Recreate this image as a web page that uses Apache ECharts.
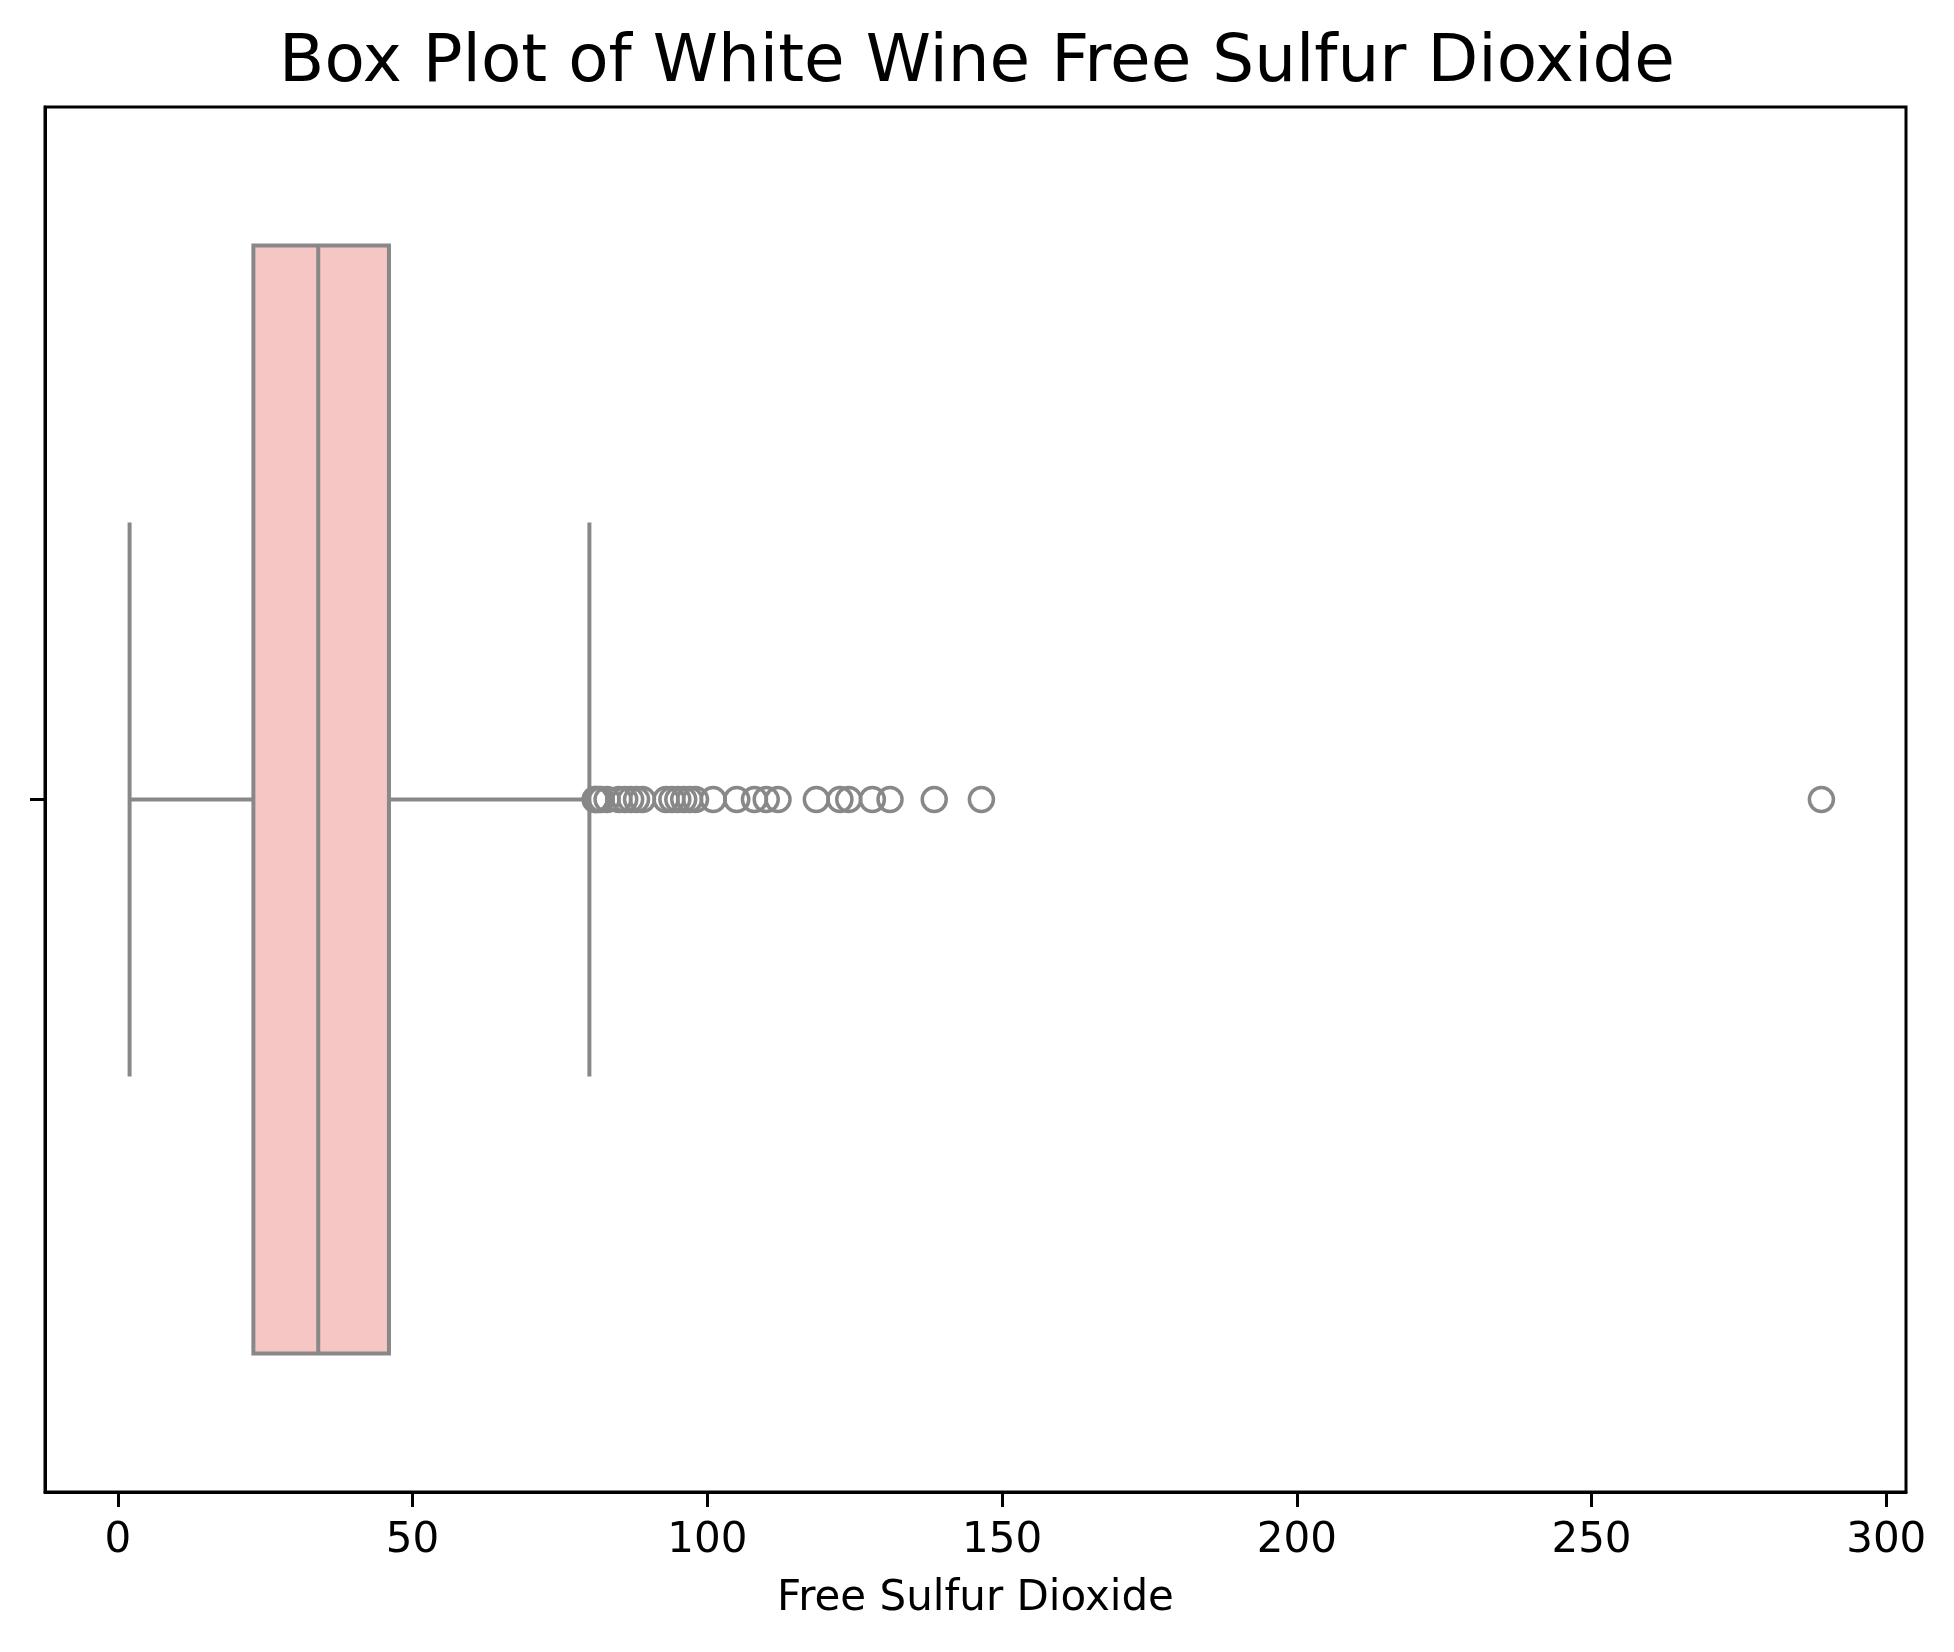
<!DOCTYPE html>
<html>
<head>
<meta charset="utf-8">
<title>Box Plot of White Wine Free Sulfur Dioxide</title>
<script src="https://cdn.jsdelivr.net/npm/echarts@6/dist/echarts.min.js"></script>
<style>
	html, body { margin: 0; padding: 0; background: #fff; }
	#main { width: 1954px; height: 1652px; }
</style>
</head>
<body>
<div id="main"></div>
<script>
// box summary: lower whisker, Q1, median, Q3, upper whisker
var boxStats = [2, 23, 34, 46, 80];
// points beyond the whiskers
var outliers = [81, 81, 81.5, 82, 83, 85, 86, 87, 88, 89, 93, 94, 95, 96, 97, 98,
	101, 105, 108, 110, 112, 118.5, 122.5, 124, 128, 131, 138.5, 146.5, 289];
// x axis tick labels
var xTicks = [0, 50, 100, 150, 200, 250, 300];

var lineColor = '#888888';
var boxColor = '#f5c6c3';
var font = 'DejaVu Sans';

var myChart = echarts.init(document.getElementById('main'));

// draw box, median, whiskers and caps with the axes' own scales
function renderBox(params, api) {
	var y = api.value(0);
	var lo = api.coord([api.value(1), y]);
	var q1 = api.coord([api.value(2), y]);
	var med = api.coord([api.value(3), y]);
	var q3 = api.coord([api.value(4), y]);
	var hi = api.coord([api.value(5), y]);
	var boxH = api.size([0, 0.8])[1];
	var capH = api.size([0, 0.4])[1];
	var cy = q1[1];
	var style = { stroke: lineColor, lineWidth: 4, fill: null };
	return {
		type: 'group',
		children: [
			{ type: 'line', shape: { x1: lo[0], y1: cy, x2: q1[0], y2: cy }, style: style },
			{ type: 'line', shape: { x1: q3[0], y1: cy, x2: hi[0], y2: cy }, style: style },
			{ type: 'line', shape: { x1: lo[0], y1: cy - capH / 2, x2: lo[0], y2: cy + capH / 2 }, style: style },
			{ type: 'line', shape: { x1: hi[0], y1: cy - capH / 2, x2: hi[0], y2: cy + capH / 2 }, style: style },
			{
				type: 'rect',
				shape: { x: q1[0], y: cy - boxH / 2, width: q3[0] - q1[0], height: boxH },
				style: { fill: boxColor, stroke: lineColor, lineWidth: 4 }
			},
			{ type: 'line', shape: { x1: med[0], y1: cy - boxH / 2, x2: med[0], y2: cy + boxH / 2 }, style: style }
		]
	};
}

var option = {
	animation: false,
	backgroundColor: '#ffffff',
	title: {
		text: 'Box Plot of White Wine Free Sulfur Dioxide',
		left: 'center',
		top: 26,
		textStyle: {
			fontFamily: font,
			fontSize: 66,
			fontWeight: 'normal',
			color: '#000'
		}
	},
	grid: {
		left: 45,
		right: 48,
		top: 107,
		bottom: 160,
		show: true,
		borderColor: '#000',
		borderWidth: 3,
		backgroundColor: '#fff'
	},
	xAxis: {
		type: 'value',
		min: -12.35,
		max: 303.35,
		name: 'Free Sulfur Dioxide',
		nameLocation: 'middle',
		nameGap: 86,
		nameTextStyle: { fontFamily: font, fontSize: 42, color: '#000' },
		splitLine: { show: false },
		axisLine: { show: true, onZero: false, lineStyle: { color: '#000', width: 3 } },
		axisTick: {
			show: true,
			inside: false,
			length: 15,
			lineStyle: { color: '#000', width: 3 },
			customValues: xTicks
		},
		axisLabel: {
			fontFamily: font,
			fontSize: 42,
			color: '#000',
			margin: 28,
			customValues: xTicks
		}
	},
	yAxis: {
		type: 'value',
		min: -0.5,
		max: 0.5,
		inverse: true,
		splitLine: { show: false },
		axisLine: { show: true, onZero: false, lineStyle: { color: '#000', width: 3 } },
		axisTick: {
			show: true,
			inside: false,
			length: 15,
			lineStyle: { color: '#000', width: 3 },
			customValues: [0]
		},
		axisLabel: { show: false }
	},
	series: [{
		type: 'custom',
		renderItem: renderBox,
		encode: { y: 0, x: [1, 2, 3, 4, 5] },
		data: [[0].concat(boxStats)],
		z: 2
	}, {
		type: 'scatter',
		symbol: 'circle',
		symbolSize: 24,
		itemStyle: { color: 'rgba(0,0,0,0)', borderColor: lineColor, borderWidth: 3.5, opacity: 1 },
		data: outliers.map(function(v) {
			return [v, 0];
		}),
		z: 3
	}]
};

myChart.setOption(option);
</script>
</body>
</html>
